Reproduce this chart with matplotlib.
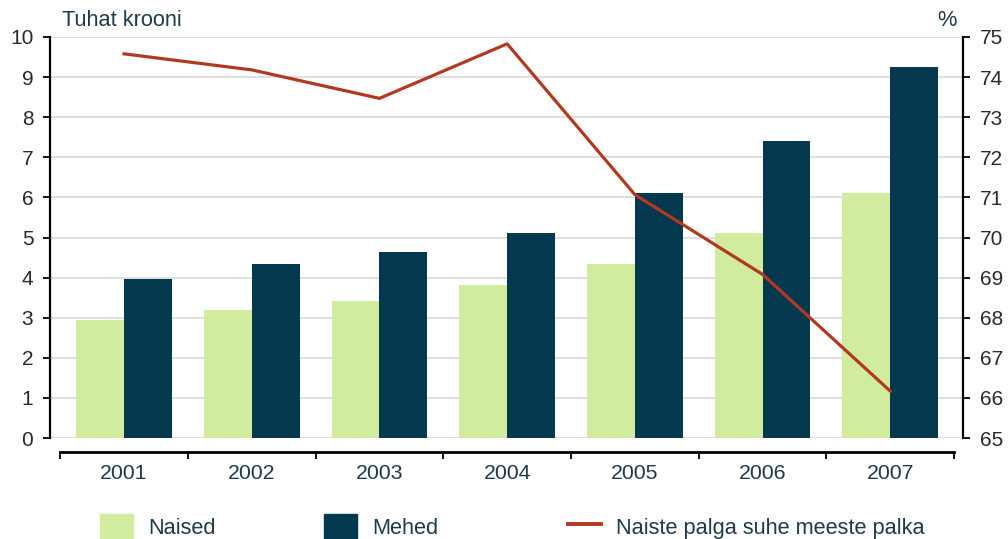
import numpy as np
import matplotlib
matplotlib.use('Agg')
import matplotlib.pyplot as plt
from matplotlib.patches import Patch
from matplotlib.lines import Line2D

plt.rcParams['font.family'] = ['Liberation Sans', 'DejaVu Sans']

# andmed
aastad = ['2001', '2002', '2003', '2004', '2005', '2006', '2007']
naised = [2.95, 3.2, 3.42, 3.82, 4.33, 5.1, 6.1]
mehed = [3.96, 4.33, 4.65, 5.12, 6.1, 7.4, 9.25]
suhe = [74.58, 74.18, 73.47, 74.83, 71.07, 69.08, 66.17]

c_naised = '#D1EC9E'
c_mehed = '#04384F'
c_joon = '#B2391F'
c_tekst = '#1F3A48'

fig = plt.figure(figsize=(10.08, 5.39), dpi=100)
ax = fig.add_axes([50/1008, 1-438/539, (963-50)/1008, (438-37)/539])
x = np.arange(len(aastad))
w = 0.375

ax.bar(x - w/2, naised, w, color=c_naised, zorder=2)
ax.bar(x + w/2, mehed, w, color=c_mehed, zorder=2)

ax.set_xlim(-0.58, 6.57)
ax.set_ylim(0, 10)
ax.set_yticks(range(0, 11))
ax.grid(axis='y', color='#D9D9D9', linewidth=1.2, zorder=0)
ax.set_axisbelow(True)

# x-telg eraldi joonena all
ax.spines['top'].set_visible(False)
ax.spines['right'].set_visible(False)
ax.spines['bottom'].set_position(('outward', 10))
ax.spines['bottom'].set_bounds(-0.5, 6.5)
ax.spines['bottom'].set_linewidth(2.0)
ax.spines['left'].set_linewidth(1.6)
ax.set_xticks(np.arange(-0.5, 7, 1))
ax.set_xticklabels([])
ax.set_xticks(x, minor=True)
ax.set_xticklabels(aastad, minor=True, fontsize=15.3, color=c_tekst)
ax.tick_params(axis='x', which='major', direction='out', length=5, width=1.3)
ax.tick_params(axis='x', which='minor', length=0, pad=9)
ax.tick_params(axis='y', direction='out', length=5, width=1.3, labelsize=15,
               labelcolor='#2A2A2A', pad=7)

ax2 = ax.twinx()
ax2.plot(x, suhe, color=c_joon, linewidth=2.3, zorder=5)
ax2.set_ylim(65, 75)
ax2.set_yticks(range(65, 76))
for s in ['top', 'bottom', 'left']:
    ax2.spines[s].set_visible(False)
ax2.spines['right'].set_linewidth(1.6)
ax2.tick_params(axis='y', direction='out', length=5, width=1.3, labelsize=15,
                labelcolor='#2A2A2A', pad=7)

fig.text(62/1008, 1-21/539, 'Tuhat krooni', fontsize=15.7, color=c_tekst, va='center', ha='left')
fig.text(947/1008, 1-20/539, '%', fontsize=15.7, color=c_tekst, va='center', ha='center')

# legend kolmes osas, et vahed klapiksid
kirjed = [(Patch(color=c_naised), 'Naised', 100),
          (Patch(color=c_mehed), 'Mehed', 324),
          (Line2D([0], [0], color=c_joon, linewidth=2.8), 'Naiste palga suhe meeste palka', 568)]
for h, lab, x0 in kirjed:
    fig.legend([h], [lab], loc='center left', bbox_to_anchor=(x0/1008, 1-527/539),
               frameon=False, fontsize=15.7, handlelength=1.5, handleheight=1.4,
               handletextpad=0.7, borderpad=0, borderaxespad=0, labelcolor=c_tekst)

fig.savefig('out.png', dpi=100)
